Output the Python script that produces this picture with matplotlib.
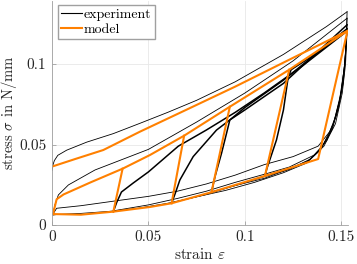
import matplotlib
matplotlib.use("Agg")
import matplotlib.pyplot as plt

plt.rcParams['font.family'] = 'cmr10'
plt.rcParams['mathtext.fontset'] = 'cm'
plt.rcParams['axes.unicode_minus'] = False

# ---- experiment ----
virgin_eps = [0, 0.0004, 0.0012, 0.003, 0.0076, 0.018, 0.0318, 0.0456, 0.06, 0.075, 0.095, 0.12, 0.1423, 0.153]
virgin_sig = [0.034, 0.037, 0.040, 0.0433, 0.0465, 0.0515, 0.0568, 0.0632, 0.070, 0.0775, 0.089, 0.106, 0.1233, 0.1325]

reload0_eps = [0.0005, 0.0015, 0.0033, 0.0085, 0.0223, 0.05, 0.075, 0.1, 0.125, 0.153]
reload0_sig = [0.0065, 0.0125, 0.0187, 0.0249, 0.0342, 0.047, 0.064, 0.082, 0.102, 0.1285]

reload1_eps = [0.0318, 0.0335, 0.036, 0.042, 0.05, 0.0655, 0.08, 0.095, 0.11, 0.13, 0.153]
reload1_sig = [0.0083, 0.0139, 0.0205, 0.026, 0.033, 0.049, 0.059, 0.07, 0.082, 0.099, 0.1205]

reload2_eps = [0.062, 0.064, 0.0663, 0.0732, 0.0853, 0.0922, 0.1, 0.12, 0.153]
reload2_sig = [0.0135, 0.020, 0.028, 0.0425, 0.059, 0.0653, 0.0715, 0.088, 0.1244]

reload3_eps = [0.0827, 0.0845, 0.0879, 0.0905, 0.0922, 0.1, 0.12, 0.153]
reload3_sig = [0.0205, 0.030, 0.0446, 0.057, 0.0653, 0.073, 0.09, 0.122]

reload4_eps = [0.1104, 0.1114, 0.1164, 0.12, 0.1225, 0.124, 0.14, 0.153]
reload4_sig = [0.0305, 0.035, 0.0529, 0.0715, 0.0922, 0.0965, 0.109, 0.121]

unloadA_eps = [0.153, 0.1525, 0.1512, 0.1485, 0.144, 0.138, 0.125, 0.11, 0.095, 0.08, 0.065, 0.05, 0.03, 0.015, 0.0024, 0.0005]
unloadA_sig = [0.1325, 0.112, 0.092, 0.072, 0.058, 0.049, 0.0425, 0.0375, 0.031, 0.0255, 0.021, 0.0178, 0.0145, 0.012, 0.0104, 0.0068]

unloadB_eps = [0.153, 0.1524, 0.151, 0.1475, 0.1425, 0.136, 0.123, 0.11, 0.095, 0.08, 0.065, 0.05, 0.0318]
unloadB_sig = [0.1285, 0.108, 0.088, 0.068, 0.0525, 0.0435, 0.036, 0.0315, 0.0265, 0.021, 0.0165, 0.0125, 0.0088]

unloadC_eps = [0.153, 0.1522, 0.1505, 0.147, 0.141, 0.134, 0.123, 0.11, 0.095, 0.08, 0.062]
unloadC_sig = [0.1205, 0.1, 0.082, 0.063, 0.049, 0.041, 0.0345, 0.030, 0.0245, 0.019, 0.0138]

unloadD_eps = [0.153, 0.152, 0.15, 0.146, 0.14, 0.133, 0.12, 0.11, 0.095, 0.0827]
unloadD_sig = [0.1244, 0.103, 0.083, 0.063, 0.0485, 0.040, 0.0335, 0.029, 0.0245, 0.0207]

unloadE_eps = [0.153, 0.1518, 0.1495, 0.1455, 0.139, 0.132, 0.12, 0.1104]
unloadE_sig = [0.122, 0.1, 0.079, 0.06, 0.0465, 0.039, 0.0335, 0.0307]

unloadF_eps = [0.153, 0.1515, 0.149, 0.145, 0.139, 0.132, 0.12, 0.105, 0.09, 0.075, 0.06, 0.045, 0.03, 0.015, 0.003, 0.0005]
unloadF_sig = [0.121, 0.097, 0.077, 0.059, 0.0465, 0.0385, 0.0325, 0.0265, 0.0215, 0.0175, 0.0135, 0.0105, 0.0085, 0.0072, 0.0066, 0.0062]

# ---- model ----
model_top_eps = [0, 0.012, 0.0266, 0.0456, 0.07, 0.095, 0.125, 0.1532]
model_top_sig = [0.0363, 0.041, 0.0466, 0.058, 0.0718, 0.086, 0.1039, 0.1206]

model_loop_eps = [0.0005, 0.0024, 0.006, 0.02, 0.0366, 0.0508, 0.0685, 0.0922, 0.123, 0.1532,
                  0.138, 0.1104, 0.0827, 0.062, 0.0508, 0.0318, 0.015, 0.0005]
model_loop_sig = [0.0068, 0.016, 0.019, 0.0265, 0.035, 0.0435, 0.0555, 0.0735, 0.0965, 0.1206,
                  0.041, 0.0305, 0.0204, 0.0135, 0.0112, 0.0083, 0.0064, 0.0068]

steep_start_eps = [0.0318, 0.062, 0.0827, 0.1104]
steep_start_sig = [0.0083, 0.0135, 0.0204, 0.0305]
steep_end_eps = [0.0366, 0.0685, 0.0922, 0.123]
steep_end_sig = [0.035, 0.0555, 0.0735, 0.0965]

orange = '#ff8000'
fig = plt.figure(figsize=(3.57, 2.64), dpi=100)
ax = fig.add_axes([0.1457, 0.1477, 0.8303, 0.8473])

thin = dict(color='black', lw=0.6)
for e, s in [(virgin_eps, virgin_sig), (reload0_eps, reload0_sig),
             (unloadA_eps, unloadA_sig), (unloadB_eps, unloadB_sig),
             (unloadC_eps, unloadC_sig), (unloadD_eps, unloadD_sig),
             (unloadE_eps, unloadE_sig), (unloadF_eps, unloadF_sig)]:
    ax.plot(e, s, **thin)
# reload bundles look thick because several cycles overlap
for e, s in [(reload1_eps, reload1_sig), (reload2_eps, reload2_sig),
             (reload3_eps, reload3_sig), (reload4_eps, reload4_sig)]:
    ax.plot(e, s, color='black', lw=1.1)

ax.plot(model_top_eps, model_top_sig, color=orange, lw=1.5)
ax.plot(model_loop_eps, model_loop_sig, color=orange, lw=1.5)
for i in range(len(steep_start_eps)):
    ax.plot([steep_start_eps[i], steep_end_eps[i]], [steep_start_sig[i], steep_end_sig[i]],
            color=orange, lw=1.5)

ax.plot([], [], color='black', lw=0.8, label='experiment')
ax.plot([], [], color=orange, lw=1.5, label='model')

ax.set_xlim(0, 0.1537)
ax.set_ylim(0, 0.139)
ax.set_xticks([0, 0.05, 0.1, 0.15])
ax.set_xticklabels(['0', '0.05', '0.1', '0.15'])
ax.set_yticks([0, 0.05, 0.1])
ax.set_yticklabels(['0', '0.05', '0.1'])
ax.grid(True, color='#e8e8e8', lw=0.6)
ax.set_axisbelow(True)
for side in ['top', 'right']:
    ax.spines[side].set_visible(False)
for side in ['left', 'bottom']:
    ax.spines[side].set_color('#a0a0a0')
    ax.spines[side].set_linewidth(0.6)
ax.tick_params(direction='in', length=3, width=0.6, color='#a0a0a0',
               labelsize=11, labelcolor='#262626', pad=4)

ax.set_xlabel(r'strain $\varepsilon$', fontsize=11, color='#262626', labelpad=2)
ax.set_ylabel(r'stress $\sigma$ in N/mm', fontsize=10.5, color='#262626')
ax.yaxis.set_label_coords(-0.112, 0.5)

ax.legend(loc='upper left', bbox_to_anchor=(0.02, 0.985), borderaxespad=0,
          fontsize=10, fancybox=False, edgecolor='#a0a0a0', framealpha=1,
          handlelength=1.45, handletextpad=0.15, labelspacing=0.15, borderpad=0.25)

fig.savefig('out.png', dpi=100)
